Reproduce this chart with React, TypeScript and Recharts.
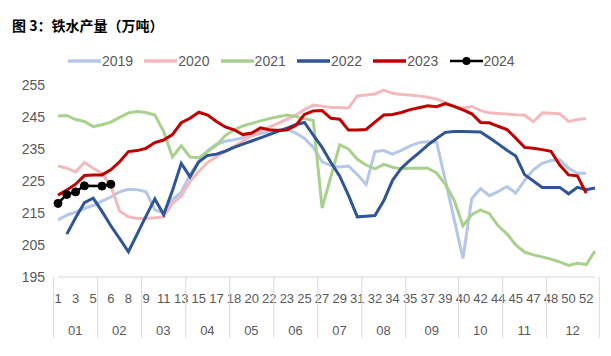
import React from 'react';
import { LineChart, Line, XAxis, YAxis } from 'recharts';

// month groups and the week labels inside each one (every other one is shown)
const months = ['01', '02', '03', '04', '05', '06', '07', '08', '09', '10', '11', '12'];
const weeksByMonth = [
  ['1', '2', '3', '4', '5'],
  ['5', '6', '7', '8', '9'],
  ['9', '10', '11', '12', '13'],
  ['14', '15', '16', '17', '18'],
  ['18', '19', '20', '21', '22'],
  ['22', '23', '24', '25', '26'],
  ['27', '28', '29', '30', '31'],
  ['31', '32', '33', '34', '35'],
  ['35', '36', '37', '38', '39', '40'],
  ['40', '41', '42', '43', '44'],
  ['44', '45', '46', '47', '48'],
  ['48', '49', '50', '51', '52', '53'],
];

const yTicks = [195, 205, 215, 225, 235, 245, 255];

const y2019 = [212.8, 214.3, 215.3, 216.4, 217.4, 218.7, 220.0, 221.6, 222.4, 222.3,
  221.6, 216.0, 215.0, 219.2, 221.5, 227.0, 231.2, 234.5, 236.5, 237.4,
  237.9, 238.5, 239.2, 239.8, 240.4, 241.0, 241.2, 240.0, 238.3, 235.5,
  231.0, 229.8, 229.4, 229.7, 227.0, 223.9, 234.2, 234.5, 233.4, 234.6,
  236.0, 237.0, 237.3, 237.2, 225.2, 213.0, 200.8, 219.5, 222.6, 220.4,
  221.7, 223.3, 221.2, 225.2, 228.5, 230.5, 231.4, 231.6, 229.0, 227.4,
  227.4, null];

const y2020 = [229.7, 229.0, 227.8, 230.8, 229.0, 227.4, 223.5, 215.6, 213.8, 213.3,
  213.3, 213.5, 213.8, 218.0, 220.3, 224.8, 228.0, 230.8, 232.6, 234.3,
  235.8, 237.5, 239.2, 240.5, 241.8, 243.0, 244.3, 245.5, 247.3, 248.7,
  248.4, 248.0, 248.0, 247.8, 251.6, 251.9, 252.2, 253.4, 252.4, 252.0,
  251.9, 251.6, 251.2, 250.6, 249.6, 248.2, 247.8, 248.3, 247.0, 246.3,
  246.1, 245.9, 245.7, 245.6, 243.5, 246.3, 246.2, 246.0, 243.6, 244.2,
  244.5, null];

const y2021 = [245.3, 245.5, 244.2, 243.6, 242.0, 242.6, 243.4, 244.9, 246.3, 246.7,
  246.4, 245.6, 240.5, 232.5, 236.0, 232.5, 232.3, 234.2, 236.2, 239.2,
  241.0, 242.2, 243.0, 243.8, 244.5, 245.1, 245.6, 245.2, 244.5, 243.9,
  216.5, 226.4, 236.3, 235.0, 231.8, 230.0, 228.8, 230.2, 229.3, 228.8,
  229.0, 229.1, 229.0, 227.5, 224.0, 219.0, 211.0, 214.5, 216.0, 214.8,
  211.0, 208.5, 205.0, 202.8, 201.9, 201.3, 200.6, 199.7, 198.6, 199.3,
  198.9, 203.1];

const y2022 = [null, 208.4, 213.5, 218.2, 219.6, 215.5, 211.0, 207.0, 202.9, 208.5,
  214.0, 219.4, 214.5, 222.0, 230.5, 226.3, 231.0, 233.0, 233.4, 234.3,
  235.5, 236.5, 237.5, 238.5, 239.5, 240.5, 241.5, 242.6, 243.3, 239.3,
  235.5, 230.8, 226.5, 220.5, 213.8, 214.0, 214.2, 218.8, 225.2, 229.0,
  231.5, 233.8, 236.2, 238.3, 240.2, 240.5, 240.5, 240.4, 240.3, 238.5,
  236.6, 234.6, 232.8, 227.0, 225.0, 223.0, 223.0, 223.0, 221.0, 223.0,
  222.3, 222.8];

const y2023 = [220.6, 222.2, 224.0, 226.7, 226.9, 226.9, 228.5, 231.0, 234.2, 234.5,
  235.2, 237.0, 237.8, 239.5, 243.2, 244.6, 246.5, 245.6, 243.6, 241.9,
  241.0, 239.5, 240.0, 241.6, 241.0, 240.8, 240.9, 242.3, 245.8, 246.9,
  247.0, 244.6, 244.3, 240.9, 240.9, 241.1, 243.4, 245.6, 245.8, 246.4,
  247.3, 247.9, 248.5, 248.2, 249.2, 248.3, 247.2, 246.0, 243.3, 243.2,
  242.1, 241.1, 238.4, 235.5, 235.2, 234.8, 234.3, 230.0, 226.9, 226.6,
  221.2, null];

const y2024 = [218.0, 220.8, 221.6, 223.5, null, 223.4, 224.0];

const series = [
  { key: 'y2019', name: '2019', color: '#B4C7E7', values: y2019 },
  { key: 'y2020', name: '2020', color: '#F4B9BD', values: y2020 },
  { key: 'y2021', name: '2021', color: '#A9D18E', values: y2021 },
  { key: 'y2022', name: '2022', color: '#2F5597', values: y2022 },
  { key: 'y2023', name: '2023', color: '#C00000', values: y2023 },
  { key: 'y2024', name: '2024', color: '#000000', values: y2024 },
];

const weekLabels = weeksByMonth.flat();
const data = weekLabels.map((week, i) => {
  const row: any = { i, week };
  series.forEach((s) => { row[s.key] = s.values[i] ?? null; });
  return row;
});

// first index of each month group
const groupStart: number[] = [];
weeksByMonth.reduce((acc, w) => { groupStart.push(acc); return acc + w.length; }, 0);

const W = 611;
const H = 356;
const margin = { top: 85, right: 16, bottom: 16, left: 0 };
const yAxisWidth = 58;
const STEP = (W - margin.left - margin.right - yAxisWidth) / weekLabels.length;
const GRID = '#D9D9D9';
const TEXT = '#595959';

const AxisTick = (props: any) => {
  const { x, y, payload } = props;
  const idx = Number(payload.value);
  const g = groupStart.indexOf(idx);
  const last = idx === weekLabels.length - 1;
  return (
    <g>
      {idx % 2 === 0 && (
        <text x={x} y={y + 26} textAnchor="middle" fontSize={13} fill={TEXT}>{weekLabels[idx]}</text>
      )}
      {g >= 0 && (
        <>
          <line x1={x - STEP / 2} y1={y} x2={x - STEP / 2} y2={y + 61} stroke={GRID} />
          <text x={x + ((weeksByMonth[g].length - 1) * STEP) / 2} y={y + 58} textAnchor="middle" fontSize={13} fill={TEXT}>
            {months[g]}
          </text>
        </>
      )}
      {last && <line x1={x + STEP / 2} y1={y} x2={x + STEP / 2} y2={y + 61} stroke={GRID} />}
    </g>
  );
};

export default function App() {
  return (
    <div style={{ position: 'absolute', left: 0, top: 0, width: W, height: H, background: '#fff', fontFamily: '"Liberation Sans", Arial, sans-serif' }}>
      <div style={{ position: 'absolute', left: 12, top: 15, fontSize: 14, fontWeight: 'bold', color: '#000', fontFamily: '"Noto Sans CJK SC", sans-serif', whiteSpace: 'nowrap' }}>
        图 3：铁水产量（万吨）
      </div>
      {series.map((s, k) => (
        <div key={s.key} style={{ position: 'absolute', left: 68 + k * 76.3, top: 52, height: 18, display: 'flex', alignItems: 'center' }}>
          <svg width={33} height={18}>
            <line x1={0} y1={9} x2={33} y2={9} stroke={s.color} strokeWidth={s.key === 'y2024' ? 2.5 : 3.5} />
            {s.key === 'y2024' && <circle cx={16.5} cy={9} r={4} fill="#000" />}
          </svg>
          <span style={{ fontSize: 14, color: TEXT, marginLeft: 1 }}>{s.name}</span>
        </div>
      ))}
      <div style={{ position: 'absolute', left: 0, top: 0 }}>
        <LineChart width={W} height={H} data={data} margin={margin}>
          <XAxis
            dataKey="i"
            type="category"
            interval={0}
            height={63}
            tickSize={0}
            tickMargin={0}
            tickLine={false}
            axisLine={{ stroke: GRID }}
            tick={(p: any) => <AxisTick {...p} />}
          />
          <YAxis
            width={yAxisWidth}
            domain={[195, 255]}
            ticks={yTicks}
            interval={0}
            axisLine={false}
            tickLine={false}
            tickSize={0}
            tickMargin={13}
            tick={{ fontSize: 14, fill: TEXT }}
          />
          {series.map((s) => (
            <Line
              key={s.key}
              type="linear"
              dataKey={s.key}
              name={s.name}
              stroke={s.color}
              strokeWidth={s.key === 'y2024' ? 2.5 : 3}
              dot={s.key === 'y2024' ? { r: 4, fill: '#000', stroke: '#000', strokeWidth: 1 } : false}
              activeDot={false}
              connectNulls={s.key === 'y2024'}
              isAnimationActive={false}
            />
          ))}
        </LineChart>
      </div>
    </div>
  );
}
